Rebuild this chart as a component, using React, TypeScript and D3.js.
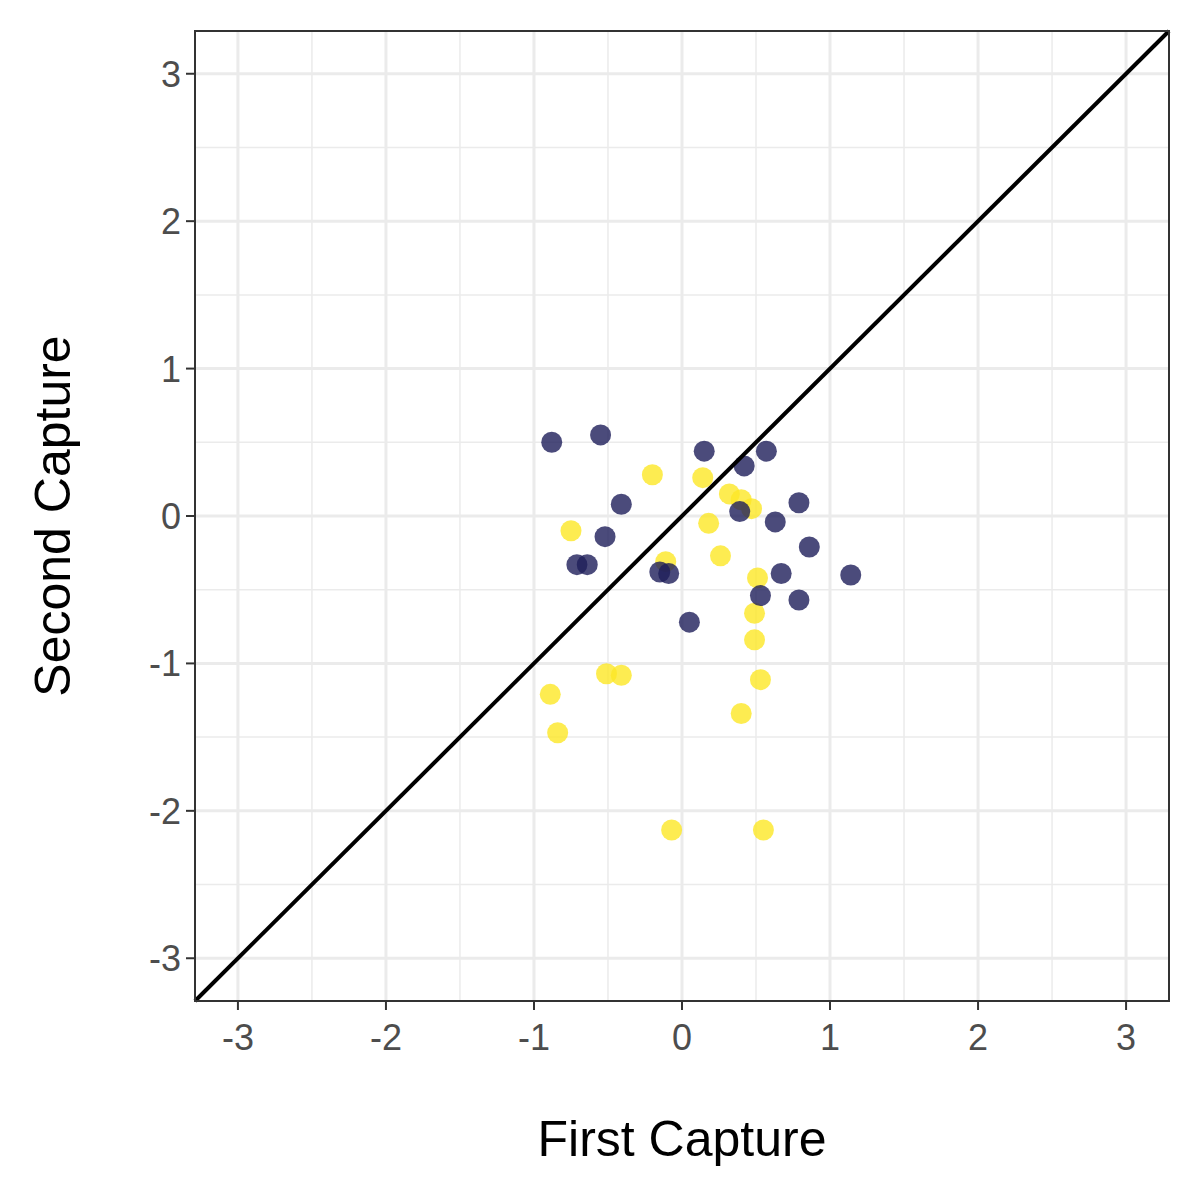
import React from "react";
import * as d3 from "d3";

const navyX = [-0.88,-0.55,0.15,0.57,0.42,-0.41,0.79,0.39,0.63,-0.52,0.86,-0.71,-0.64,-0.15,-0.09,0.67,1.14,0.53,0.79,0.05];
const navyY = [0.50,0.55,0.44,0.44,0.34,0.08,0.09,0.03,-0.04,-0.14,-0.21,-0.33,-0.33,-0.38,-0.39,-0.39,-0.40,-0.54,-0.57,-0.72];
const yelX = [-0.20,0.14,0.32,0.40,0.47,0.18,-0.75,-0.11,0.26,0.51,0.49,0.49,-0.51,-0.41,0.53,-0.89,0.40,-0.84,-0.07,0.55];
const yelY = [0.28,0.26,0.15,0.11,0.05,-0.05,-0.10,-0.31,-0.27,-0.42,-0.66,-0.84,-1.07,-1.08,-1.11,-1.21,-1.34,-1.47,-2.13,-2.13];
const ticks = [-3,-2,-1,0,1,2,3];
const minor = [-2.5,-1.5,-0.5,0.5,1.5,2.5];

export default function App() {
  const L = 195, R = 1169, T = 31, B = 1001;
  const lim = 3.29;
  const x = d3.scaleLinear().domain([-lim, lim]).range([L, R]);
  const y = d3.scaleLinear().domain([-lim, lim]).range([B, T]);
  const font = "Liberation Sans, Arial, sans-serif";
  return (
    <svg width={1200} height={1200} style={{ display: "block", margin: -8 }}>
      <rect width={1200} height={1200} fill="white" />
      {minor.map(v => <g key={"m" + v}>
        <line x1={x(v)} x2={x(v)} y1={T} y2={B} stroke="#ebebeb" strokeWidth={1.5} />
        <line y1={y(v)} y2={y(v)} x1={L} x2={R} stroke="#ebebeb" strokeWidth={1.5} />
      </g>)}
      {ticks.map(v => <g key={"t" + v}>
        <line x1={x(v)} x2={x(v)} y1={T} y2={B} stroke="#ebebeb" strokeWidth={3} />
        <line y1={y(v)} y2={y(v)} x1={L} x2={R} stroke="#ebebeb" strokeWidth={3} />
        <line x1={x(v)} x2={x(v)} y1={B} y2={B + 9} stroke="#333" strokeWidth={2} />
        <line y1={y(v)} y2={y(v)} x1={L - 9} x2={L} stroke="#333" strokeWidth={2} />
        <text x={x(v)} y={B + 49} textAnchor="middle" fontSize={36} fill="#4d4d4d" fontFamily={font}>{v}</text>
        <text x={L - 14} y={y(v) + 13} textAnchor="end" fontSize={36} fill="#4d4d4d" fontFamily={font}>{v}</text>
      </g>)}
      {yelX.map((v, i) => <circle key={"y" + i} cx={x(v)} cy={y(yelY[i])} r={10.5} fill="#FDE725" fillOpacity={0.8} />)}
      {navyX.map((v, i) => <circle key={"n" + i} cx={x(v)} cy={y(navyY[i])} r={10.5} fill="#1e1e5a" fillOpacity={0.8} />)}
      <line x1={x(-lim)} y1={y(-lim)} x2={x(lim)} y2={y(lim)} stroke="black" strokeWidth={4} />
      <rect x={L} y={T} width={R - L} height={B - T} fill="none" stroke="#333" strokeWidth={2} />
      <text x={(L + R) / 2} y={1156} textAnchor="middle" fontSize={50} fontFamily={font}>First Capture</text>
      <text transform={`translate(70,${(T + B) / 2}) rotate(-90)`} textAnchor="middle" fontSize={50} fontFamily={font}>Second Capture</text>
    </svg>
  );
}
